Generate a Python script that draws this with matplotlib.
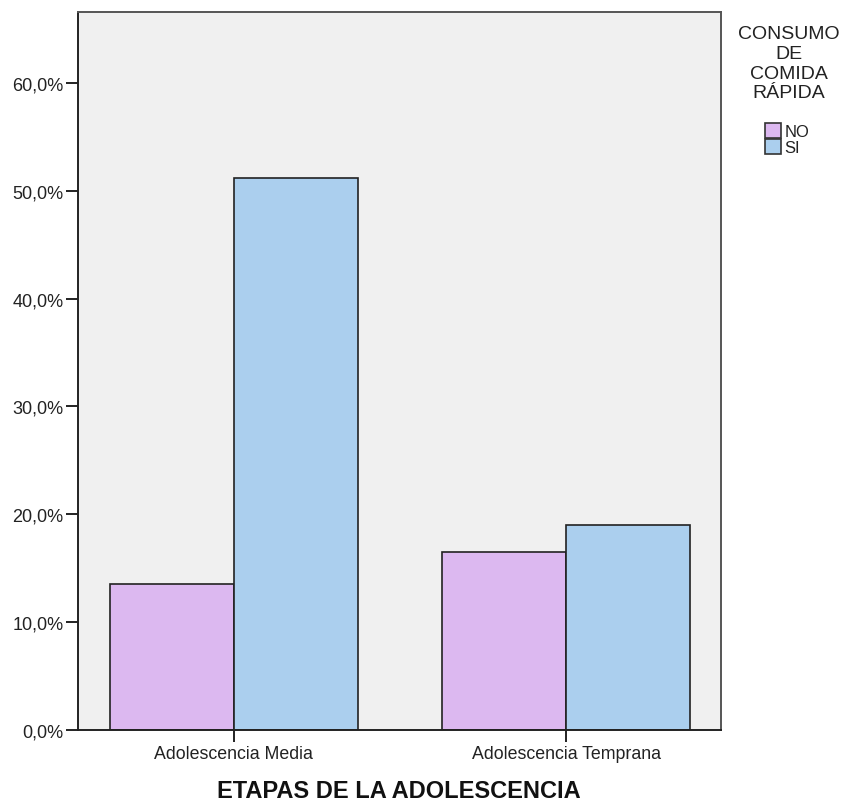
import numpy as np
import matplotlib.pyplot as plt

plt.rcParams['font.family'] = ['Liberation Sans', 'DejaVu Sans']

# datos
etapas = ["Adolescencia Media", "Adolescencia Temprana"]
no_pct = [13.5, 16.5]
si_pct = [51.2, 19.0]
yticks = [0, 10, 20, 30, 40, 50, 60]
ytick_labels = ["0,0%", "10,0%", "20,0%", "30,0%", "40,0%", "50,0%", "60,0%"]

col_no = "#dcb8f0"
col_si = "#abcfee"

fig = plt.figure(figsize=(8.45, 8.03), dpi=100)
ax = fig.add_axes([0.0923, 0.0897, 0.7609, 0.8946])
ax.set_facecolor("#f0f0f0")

x = np.arange(len(etapas))
w = 0.373
ax.bar(x, no_pct, width=-w, align="edge", color=col_no, edgecolor="#222222",
       linewidth=1.2, label="NO")
ax.bar(x, si_pct, width=w, align="edge", color=col_si, edgecolor="#222222",
       linewidth=1.2, label="SI")

ax.set_xlim(-0.468, 1.466)
ax.set_ylim(0, 66.6)
ax.set_xticks(x)
ax.set_xticklabels(etapas, fontsize=12.8, color="#222222")
ax.set_yticks(yticks)
ax.set_yticklabels(ytick_labels, fontsize=13, color="#222222")
ax.tick_params(axis="both", length=8.5, width=1.4, color="#222222", pad=2)

for s in ["left", "bottom"]:
    ax.spines[s].set_color("#222222")
    ax.spines[s].set_linewidth(1.4)
for s in ["top", "right"]:
    ax.spines[s].set_color("#555555")
    ax.spines[s].set_linewidth(1.4)

fig.text(0.472, 0.014, "ETAPAS DE LA ADOLESCENCIA", ha="center", va="center",
         fontsize=17, fontweight="bold", color="#111111")

# titulo de la leyenda
fig.text(0.934, 0.967, "CONSUMO\nDE\nCOMIDA\nRÁPIDA", ha="center", va="top",
         multialignment="center", fontsize=14, linespacing=1.2, color="#222222")

leg = fig.legend(loc="upper left", bbox_to_anchor=(0.905, 0.846), frameon=False,
                 fontsize=12, handlelength=1.0, handleheight=1.0,
                 handletextpad=0.2, labelspacing=0.02, borderaxespad=0,
                 borderpad=0)
for p in leg.get_patches():
    p.set_edgecolor("#333333")
for t in leg.get_texts():
    t.set_color("#222222")

fig.savefig("out.png", dpi=100)
